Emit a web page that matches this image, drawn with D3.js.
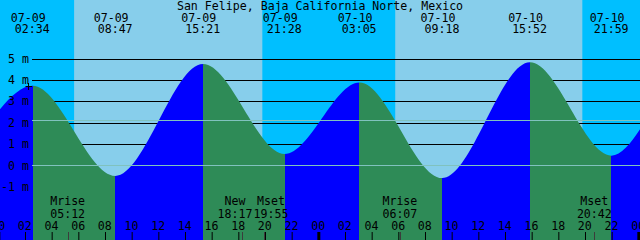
<!DOCTYPE html>
<html>
<head>
<meta charset="utf-8">
<script src="https://cdn.jsdelivr.net/npm/d3@7"></script>
<style>
  html, body { margin: 0; padding: 0; background: #fff; }
  svg { display: block; }
  text { font-family: "DejaVu Sans Mono", "Liberation Mono", monospace; font-size: 11.6px; fill: #000; }
</style>
</head>
<body>
<svg id="chart" width="640" height="240"></svg>
<script>
// ---------------- DATA ----------------
const title = "San Felipe, Baja California Norte, Mexico";

// tide extremes (local time); the first two and last two lie just outside the window
const tideTimes = ["2021-07-08 14:50", "2021-07-08 20:30", "2021-07-09 02:34", "2021-07-09 08:47",
                   "2021-07-09 15:21", "2021-07-09 21:28", "2021-07-10 03:05", "2021-07-10 09:18",
                   "2021-07-10 15:52", "2021-07-10 21:59", "2021-07-11 03:20", "2021-07-11 09:50"];
const tideHeights = [4.70, 0.65, 3.72, -0.50, 4.74, 0.53, 3.88, -0.60, 4.82, 0.45, 3.95, -0.60];

// sunrise / sunset
const sunriseTimes = ["2021-07-09 05:41", "2021-07-10 05:46"];
const sunsetTimes  = ["2021-07-09 19:48", "2021-07-10 19:48"];

// moon events
const moonLabels = ["Mrise", "New", "Mset", "Mrise", "Mset"];
const moonTimes  = ["2021-07-09 05:12", "2021-07-09 18:17", "2021-07-09 19:55", "2021-07-10 06:07", "2021-07-10 20:42"];

// height levels (m)
const levelTicks = [-1, 0, 1, 2, 3, 4, 5];
const datumLevel = 0;
const mslLevel = 2.11;

// ---------------- SETUP ----------------
const W = 640, H = 240;
const parse = d3.utcParse("%Y-%m-%d %H:%M");
const fmtDate = d3.utcFormat("%m-%d");
const fmtTime = d3.utcFormat("%H:%M");
const fmtHour = d3.utcFormat("%H");

const COL_DAY = "#87CEEB", COL_NIGHT = "#00BFFF", COL_RISE = "#0000FF", COL_FALL = "#2E8B57";
const COL_MARK = "#80C2BE";

const x = d3.scaleUtc()
  .domain([parse("2021-07-09 00:00"), parse("2021-07-11 00:00")])
  .range([-1.67, 638.33]);
const y = d3.scaleLinear().domain([0, 5]).range([165.3, 58.5]);

const svg = d3.select("#chart");

// ---------------- BACKGROUND (day / night) ----------------
svg.append("rect").attr("x", 0).attr("y", 0).attr("width", W).attr("height", H).attr("fill", COL_NIGHT);
const days = sunriseTimes.map((r, i) => ({ rise: parse(r), set: parse(sunsetTimes[i]) }));
svg.append("g").selectAll("rect").data(days).join("rect")
  .attr("x", d => x(d.rise)).attr("y", 0)
  .attr("width", d => x(d.set) - x(d.rise)).attr("height", H)
  .attr("fill", COL_DAY);

// ---------------- BLACK LEVEL LINES ----------------
const gridLeft = 32;
svg.append("g").selectAll("line").data(levelTicks.filter(v => v !== datumLevel)).join("line")
  .attr("x1", gridLeft).attr("x2", W)
  .attr("y1", d => Math.round(y(d)) + 0.5).attr("y2", d => Math.round(y(d)) + 0.5)
  .attr("stroke", "#000").attr("stroke-width", 1);

// ---------------- TIDE ----------------
const tide = tideTimes.map((t, i) => ({ t: parse(t), h: tideHeights[i] }));
const area = d3.area()
  .x(d => x(d.t)).y0(H).y1(d => y(d.h))
  .curve(d3.curveMonotoneX);

svg.append("clipPath").attr("id", "tideClip")
  .append("path").attr("d", area(tide));

svg.append("g").attr("clip-path", "url(#tideClip)")
  .selectAll("rect").data(d3.pairs(tide)).join("rect")
  .attr("x", d => x(d[0].t)).attr("y", 0)
  .attr("width", d => x(d[1].t) - x(d[0].t)).attr("height", H)
  .attr("fill", d => d[1].h > d[0].h ? COL_RISE : COL_FALL)
  .attr("shape-rendering", "crispEdges");

// ---------------- DATUM & MSL LINES ----------------
svg.append("g").selectAll("line").data([datumLevel, mslLevel]).join("line")
  .attr("x1", gridLeft).attr("x2", W)
  .attr("y1", d => Math.round(y(d)) + 0.5).attr("y2", d => Math.round(y(d)) + 0.5)
  .attr("stroke", COL_MARK).attr("stroke-width", 1);

// ---------------- LEVEL LABELS ----------------
svg.append("g").selectAll("text").data(levelTicks).join("text")
  .attr("x", 29).attr("y", d => y(d) + 4.2)
  .attr("text-anchor", "end")
  .text(d => d + " m");

// small cross mark near the left axis
const cross = svg.append("g").attr("stroke", "#000").attr("stroke-width", 1);
cross.append("line").attr("x1", 25.5).attr("x2", 32).attr("y1", 86.5).attr("y2", 86.5);
cross.append("line").attr("x1", 28.5).attr("x2", 28.5).attr("y1", 83).attr("y2", 90);

// ---------------- TITLE ----------------
svg.append("text").attr("x", W / 2).attr("y", 10).attr("text-anchor", "middle").text(title);

// ---------------- EXTREMA LABELS ----------------
const visible = tide.filter(d => x(d.t) >= 0 && x(d.t) <= W);
const extG = svg.append("g");
extG.selectAll("text.d").data(visible).join("text").attr("class", "d")
  .attr("x", d => x(d.t) - 4.3).attr("y", 21.7).attr("text-anchor", "middle")
  .text(d => fmtDate(d.t));
extG.selectAll("text.t").data(visible).join("text").attr("class", "t")
  .attr("x", d => x(d.t) - 0.3).attr("y", 33.3).attr("text-anchor", "middle")
  .text(d => fmtTime(d.t));

// ---------------- MOON EVENTS ----------------
const moon = moonTimes.map((t, i) => ({ t: parse(t), label: moonLabels[i] }));
moon.forEach(d => d.lx = x(d.t));
const minGap = 36;
for (let i = 0; i < moon.length - 1; i++) {
  const a = moon[i], b = moon[i + 1];
  if (b.lx - a.lx < minGap) {
    const mid = (a.lx + b.lx) / 2;
    a.lx = mid - minGap / 2; b.lx = mid + minGap / 2;
  }
}
const mg = svg.append("g");
mg.selectAll("line").data(moon).join("line")
  .attr("x1", d => Math.round(x(d.t)) + 0.5).attr("x2", d => Math.round(x(d.t)) + 0.5)
  .attr("y1", 232).attr("y2", H)
  .attr("stroke", "#3c3c3c").attr("stroke-width", 1);
mg.selectAll("text.l").data(moon).join("text").attr("class", "l")
  .attr("x", d => d.lx).attr("y", 205).attr("text-anchor", "middle").text(d => d.label);
mg.selectAll("text.m").data(moon).join("text").attr("class", "m")
  .attr("x", d => d.lx).attr("y", 218.3).attr("text-anchor", "middle").text(d => fmtTime(d.t));

// ---------------- HOUR AXIS ----------------
const axis = d3.axisTop(x)
  .ticks(d3.utcHour.every(2))
  .tickSize(8).tickPadding(2)
  .tickFormat(fmtHour);
const ax = svg.append("g").attr("transform", `translate(0,${H})`).call(axis);
ax.select(".domain").remove();
ax.selectAll("text").attr("font-family", null).attr("font-size", null).attr("fill", "#000").attr("dx", -0.7);
ax.selectAll(".tick line").attr("stroke", "#000")
  .attr("stroke-width", d => d.getUTCHours() === 0 ? 3 : 1);
</script>
</body>
</html>
